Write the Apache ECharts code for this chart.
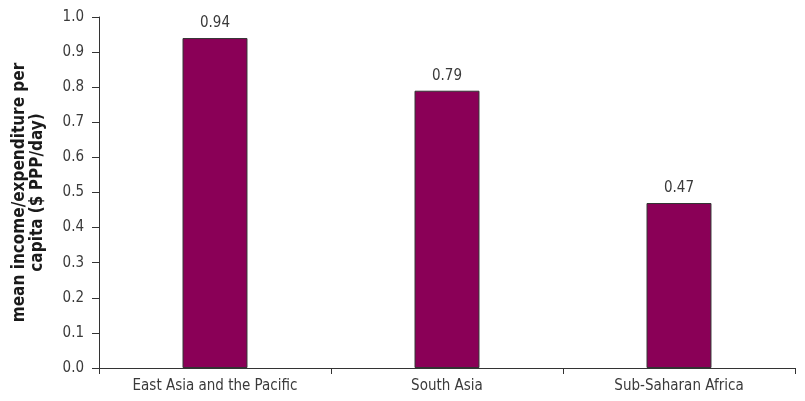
<!DOCTYPE html>
<html>
<head>
<meta charset="utf-8">
<script src="https://cdn.jsdelivr.net/npm/echarts@6/dist/echarts.min.js"></script>
<style>
  html, body { margin: 0; padding: 0; background: #fff; }
  #chart { width: 805px; height: 401px; }
</style>
</head>
<body>
<div id="chart"></div>
<script>
// Mean income/expenditure per capita by region
const regions = ['East Asia and the Pacific', 'South Asia', 'Sub-Saharan Africa'];
const meanIncome = [0.94, 0.79, 0.47];
const yTicks = { min: 0, max: 1.0, step: 0.1 };

const FONT = '"DejaVu Sans Condensed", "Liberation Sans Narrow", sans-serif';
const TEXT = '#3a3a3a';

const chart = echarts.init(document.getElementById('chart'), null, { renderer: 'canvas' });
chart.setOption({
  animation: false,
  textStyle: { fontFamily: FONT },
  grid: { left: 99, right: 10, top: 17, bottom: 33 },
  xAxis: {
    type: 'category',
    data: regions,
    axisLine: { lineStyle: { color: '#333', width: 1 } },
    axisTick: { show: true, length: 6, lineStyle: { color: '#333' } },
    axisLabel: { color: TEXT, fontSize: 15, fontFamily: FONT, margin: 11 }
  },
  yAxis: {
    type: 'value',
    min: yTicks.min,
    max: yTicks.max,
    interval: yTicks.step,
    name: 'mean income/expenditure per\ncapita ($ PPP/day)',
    nameLocation: 'middle',
    nameGap: 52,
    nameTextStyle: { color: '#1a1a1a', fontSize: 17, fontWeight: 'bold', fontFamily: FONT, lineHeight: 18 },
    axisLine: { show: true, lineStyle: { color: '#333', width: 1 } },
    axisTick: { show: true, length: 7, lineStyle: { color: '#333' } },
    axisLabel: { color: TEXT, fontSize: 15, fontFamily: FONT, margin: 15, formatter: v => v.toFixed(1) },
    splitLine: { show: false }
  },
  series: [{
    type: 'bar',
    data: meanIncome,
    barWidth: '28%',
    itemStyle: { color: '#8a0057', borderColor: '#333', borderWidth: 1 },
    label: { show: true, position: 'top', distance: 7, color: TEXT, fontSize: 15, fontFamily: FONT, formatter: p => p.value.toFixed(2) }
  }]
});
</script>
</body>
</html>
